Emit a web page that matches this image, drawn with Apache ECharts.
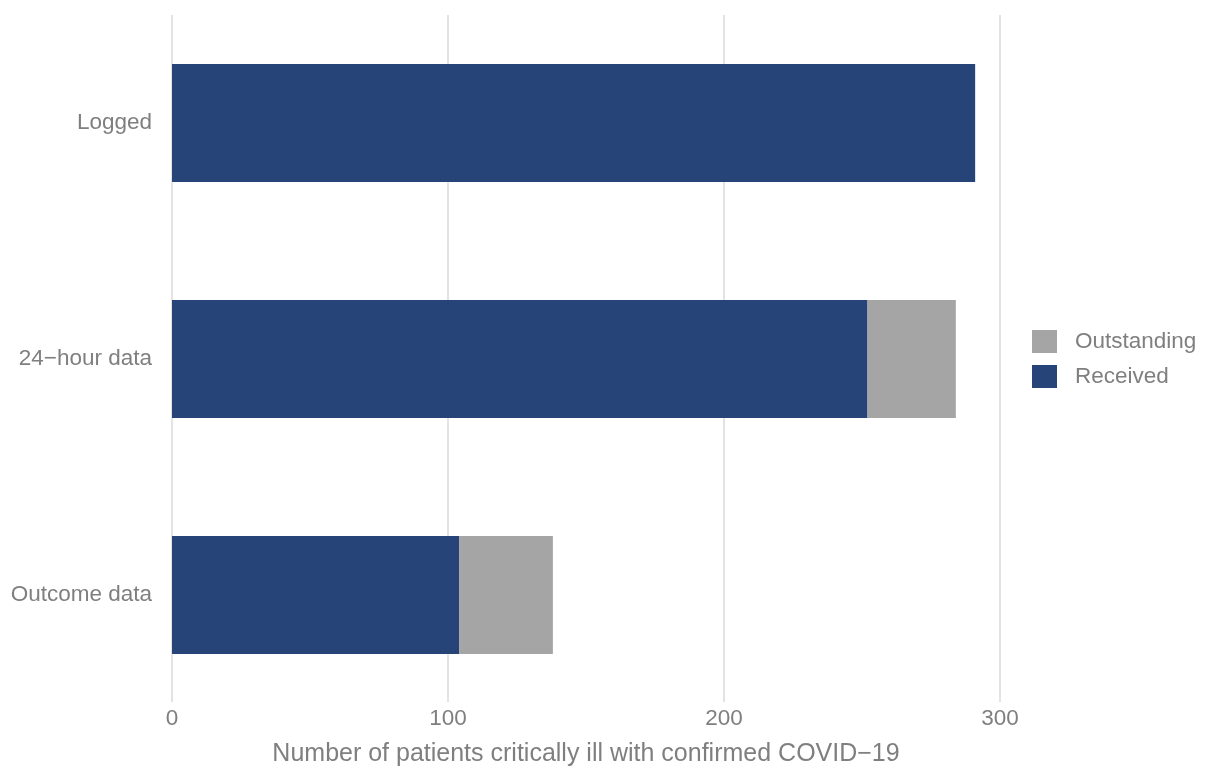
<!DOCTYPE html>
<html>
<head>
<meta charset="utf-8">
<script src="https://cdn.jsdelivr.net/npm/echarts@6/dist/echarts.min.js"></script>
<style>
html,body{margin:0;padding:0;background:#fff;}
#chart{width:1205px;height:767px;}
</style>
</head>
<body>
<div id="chart"></div>
<script>
const categories = ['Logged', '24\u2212hour data', 'Outcome data'];
const received = [291, 252, 104];
const outstanding = [0, 32, 34];
const xTicks = [0, 100, 200, 300];
const xTitle = 'Number of patients critically ill with confirmed COVID\u221219';

const FONT = "'Liberation Sans', Arial, Helvetica, sans-serif";
const TXT = '#7f7f7f';

const chart = echarts.init(document.getElementById('chart'));
chart.setOption({
  animation: false,
  backgroundColor: '#ffffff',
  textStyle: { fontFamily: FONT },
  grid: [
    { left: 172, right: 205, top: 5, bottom: 54, containLabel: false, outerBoundsMode: 'none' },
    { left: 172, right: 205, top: 15, bottom: 65, containLabel: false, outerBoundsMode: 'none' }
  ],
  xAxis: [
    { type: 'value', gridIndex: 0, min: xTicks[0], max: xTicks[xTicks.length - 1], show: false },
    {
      type: 'value', gridIndex: 1, min: xTicks[0], max: xTicks[xTicks.length - 1], interval: 100,
      axisLine: { show: false }, axisTick: { show: false },
      splitLine: { show: true, lineStyle: { color: '#dcdcdc', width: 1.6 } },
      axisLabel: { fontSize: 22.5, color: TXT, margin: 5, fontFamily: FONT },
      name: xTitle, nameLocation: 'middle', nameGap: 40,
      nameTextStyle: { fontSize: 25, color: TXT, fontFamily: FONT }
    }
  ],
  yAxis: [
    {
      type: 'category', gridIndex: 0, data: categories, inverse: true,
      axisLine: { show: false }, axisTick: { show: false }, splitLine: { show: false },
      axisLabel: { fontSize: 22.5, color: TXT, margin: 20, fontFamily: FONT }
    },
    { type: 'value', gridIndex: 1, show: false }
  ],
  legend: {
    orient: 'vertical', left: 1032, top: 330, padding: 0,
    itemWidth: 25, itemHeight: 23, itemGap: 12,
    icon: 'rect',
    data: ['Outstanding', 'Received'],
    textStyle: { fontSize: 22.5, color: TXT, fontFamily: FONT, padding: [0, 0, 0, 13] }
  },
  series: [
    {
      name: 'Received', type: 'bar', stack: 'total', xAxisIndex: 0, yAxisIndex: 0,
      data: received, barWidth: 118, itemStyle: { color: '#264478' }
    },
    {
      name: 'Outstanding', type: 'bar', stack: 'total', xAxisIndex: 0, yAxisIndex: 0,
      data: outstanding, barWidth: 118, itemStyle: { color: '#a5a5a5' }
    }
  ]
});
</script>
</body>
</html>
